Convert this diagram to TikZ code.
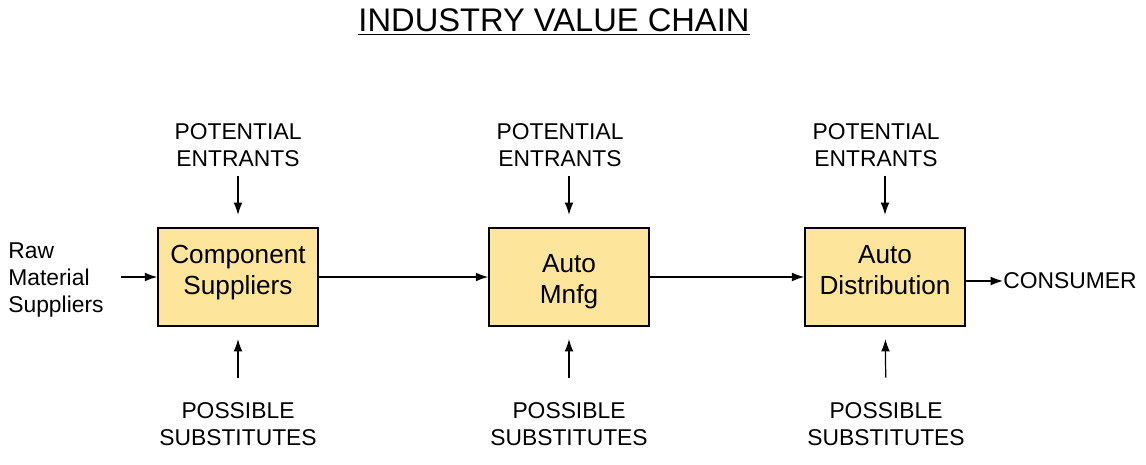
\documentclass[tikz,border=0pt]{standalone}
\usepackage{fontspec}
\setmainfont{Liberation Sans}
\usepackage{xcolor}
\usetikzlibrary{positioning, arrows.meta}
\definecolor{boxfill}{RGB}{253,229,155}
\newcommand{\boxtext}[2]{\raisebox{#1}[0pt][0pt]{\begin{tabular}[b]{@{}c@{}}#2\end{tabular}}}

\begin{document}
\begin{tikzpicture}[
        x=0.02cm, y=-0.02cm,
        box/.style={rectangle, draw, line width=0.9pt, fill=boxfill, minimum width=3.2cm, minimum height=1.96cm, font=\fontsize{14.9}{18}\selectfont},
        lbl/.style={align=center, inner sep=0pt, font=\fontsize{13}{15.3}\selectfont},
        arr/.style={-{Latex[length=7pt, width=5pt]}, line width=0.7pt},
    ]
        \useasboundingbox (0,0) rectangle (1146,465);

        % Title
        \node[font=\fontsize{18.6}{22}\selectfont, inner sep=0pt] (title) at (554,22) {\underline{INDUSTRY VALUE CHAIN}};

        % Chain
        \node[box] (comp) at (238,277) {\boxtext{-10.1pt}{Component\\Suppliers}};
        \node[box] (mnfg) at (569,277) {\boxtext{-15.2pt}{Auto\\Mnfg}};
        \node[box] (dist) at (885,277) {\boxtext{-10.1pt}{Auto\\Distribution}};
        \node[lbl, align=left, anchor=west] (raw) at (8,280) {Raw\\Material\\Suppliers};
        \node[lbl, anchor=west] (cons) at (1003,281) {CONSUMER};

        % Forces
        \node[lbl] (pe1) at (238,145) {POTENTIAL\\ENTRANTS};
        \node[lbl] (pe2) at (560,145) {POTENTIAL\\ENTRANTS};
        \node[lbl] (pe3) at (876,145) {POTENTIAL\\ENTRANTS};
        \node[lbl] (ps1) at (238,424) {POSSIBLE\\SUBSTITUTES};
        \node[lbl] (ps2) at (569,424) {POSSIBLE\\SUBSTITUTES};
        \node[lbl] (ps3) at (886,424) {POSSIBLE\\SUBSTITUTES};

        % Flow
        \draw[arr, shorten <=10pt] (raw.east |- comp.west) -- (comp);
        \draw[arr] (comp) -- (mnfg);
        \draw[arr] (mnfg) -- (dist);
        \draw[arr] (dist.east |- cons.west) -- (cons);
        \draw[arr, shorten <=5pt, shorten >=7pt] (pe1) -- (comp);
        \draw[arr, shorten <=5pt, shorten >=7pt] (pe2.south -| mnfg) -- (mnfg);
        \draw[arr, shorten <=5pt, shorten >=7pt] (pe3.south -| dist) -- (dist);
        \draw[arr, shorten <=14pt, shorten >=7pt] (ps1) -- (comp);
        \draw[arr, shorten <=14pt, shorten >=7pt] (ps2) -- (mnfg);
        \draw[arr, shorten <=14pt, shorten >=7pt] (ps3) -- (dist);

    \end{tikzpicture}
\end{document}
